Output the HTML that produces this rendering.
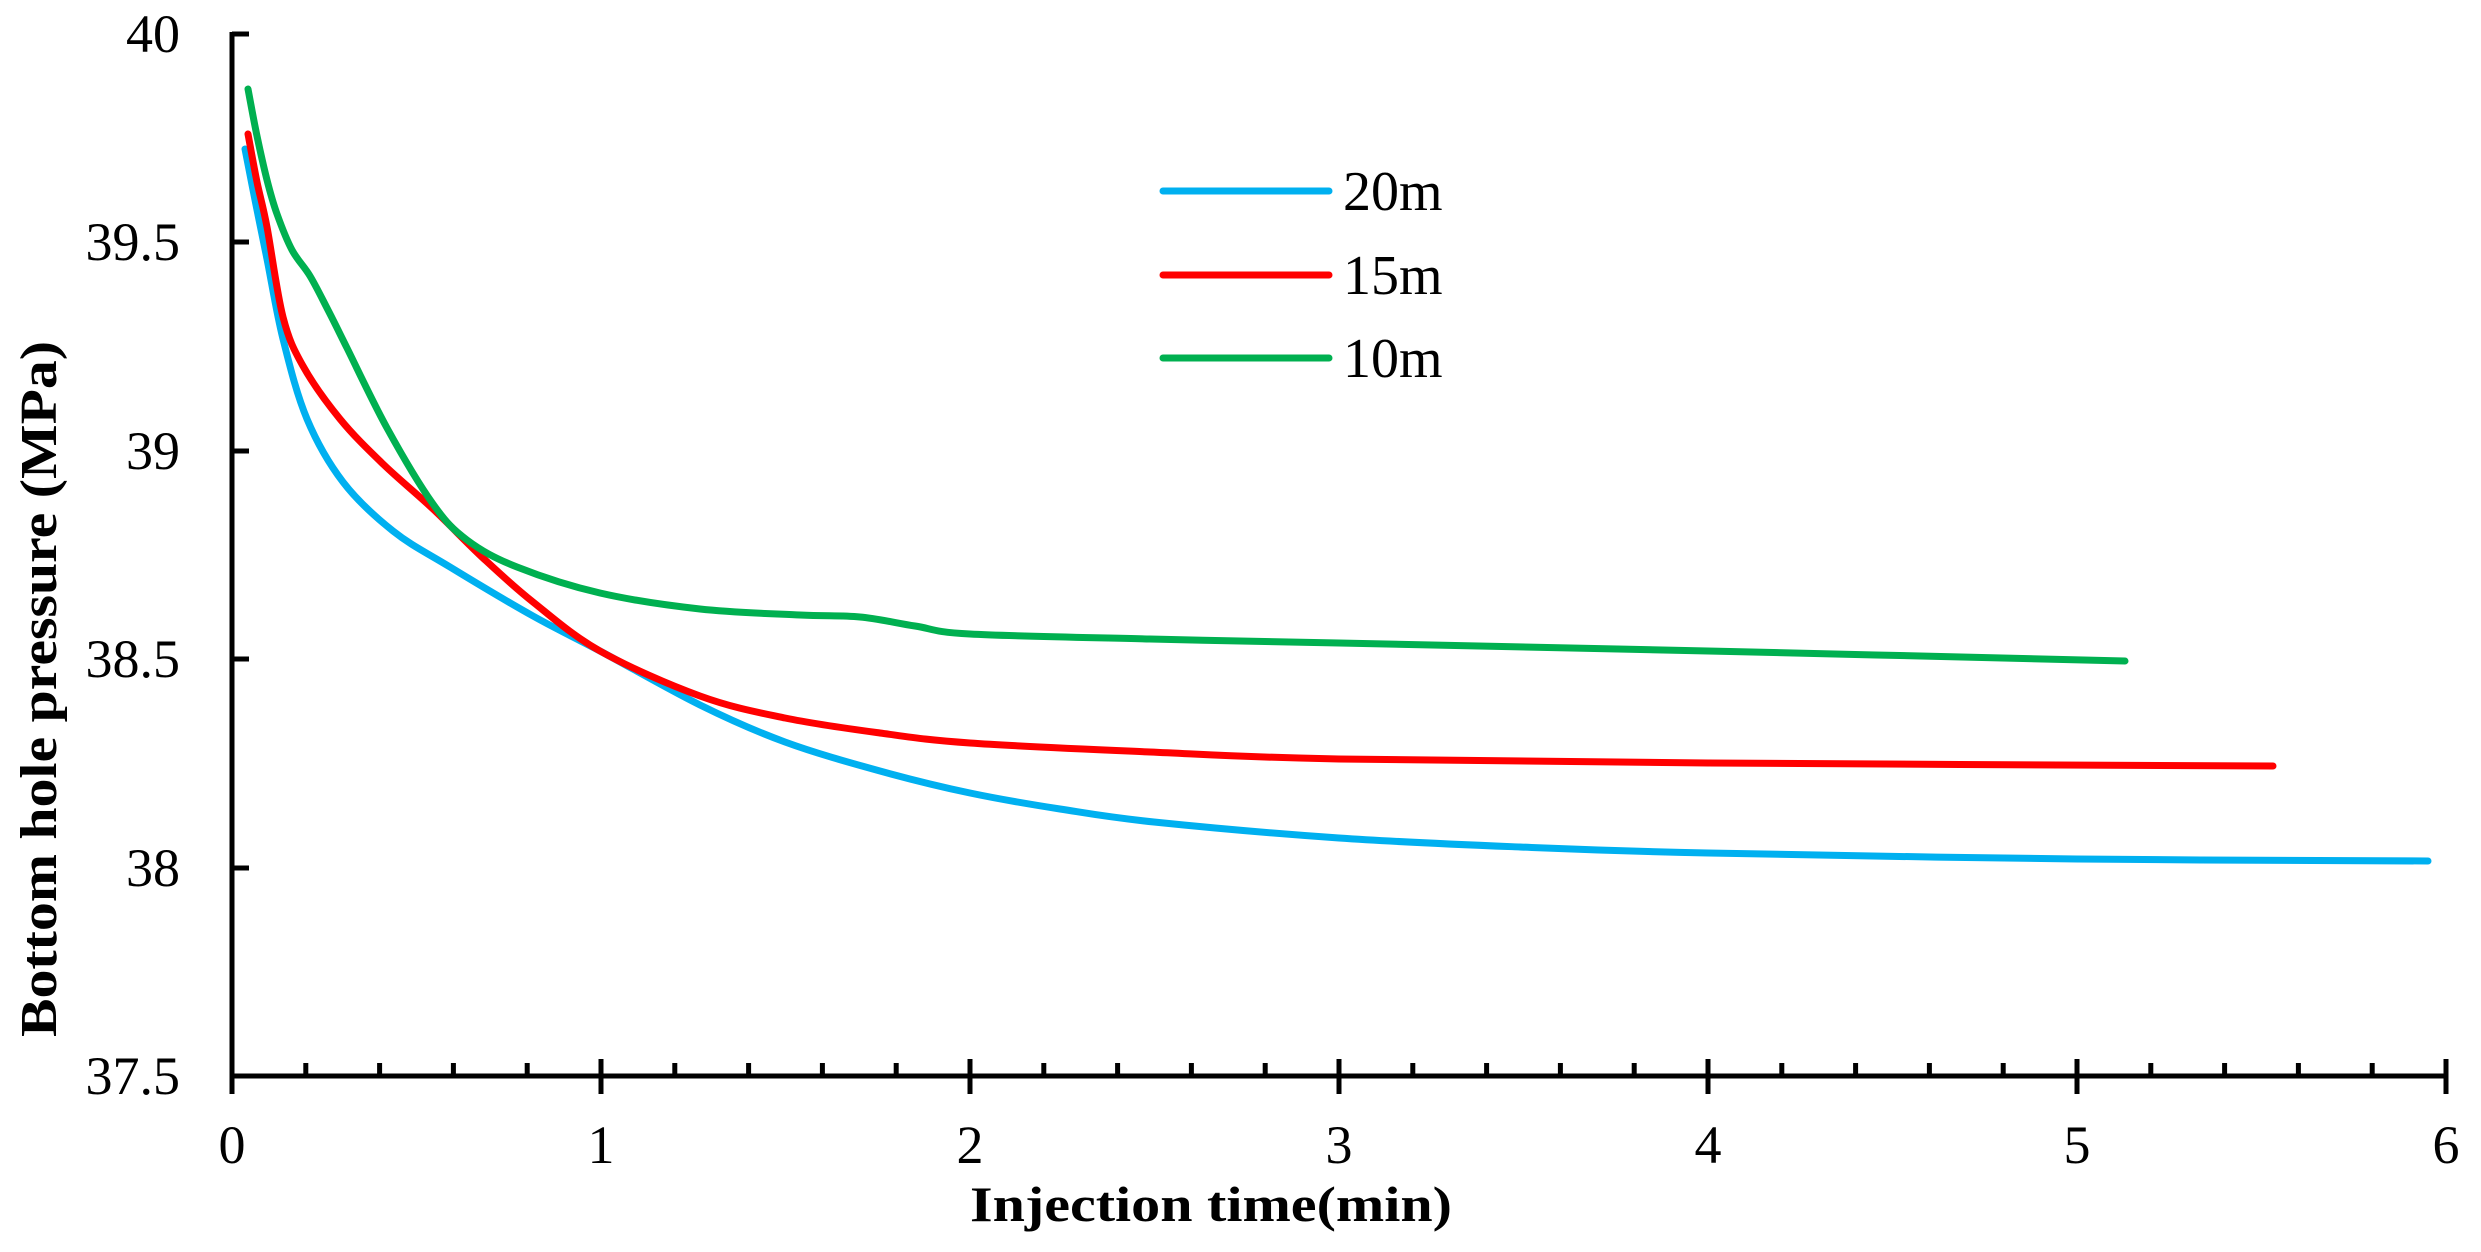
<!DOCTYPE html>
<html><head><meta charset="utf-8"><style>html,body{margin:0;padding:0;background:#fff}svg{display:block}</style></head>
<body>
<svg width="2481" height="1252" viewBox="0 0 2481 1252" xmlns="http://www.w3.org/2000/svg" font-family="Liberation Serif, serif">
<g stroke="#000" stroke-width="5" fill="none">
<line x1="232" y1="32" x2="232" y2="1094"/>
<line x1="230" y1="1076" x2="2448" y2="1076"/>
<line x1="232" y1="34" x2="249" y2="34"/>
<line x1="232" y1="242" x2="249" y2="242"/>
<line x1="232" y1="451" x2="249" y2="451"/>
<line x1="232" y1="659" x2="249" y2="659"/>
<line x1="232" y1="868" x2="249" y2="868"/>
<line x1="601" y1="1059" x2="601" y2="1094"/>
<line x1="970" y1="1059" x2="970" y2="1094"/>
<line x1="1339" y1="1059" x2="1339" y2="1094"/>
<line x1="1708" y1="1059" x2="1708" y2="1094"/>
<line x1="2077" y1="1059" x2="2077" y2="1094"/>
<line x1="2446" y1="1059" x2="2446" y2="1094"/>
</g>
<g stroke="#000" stroke-width="5">
<path d="M305.8 1076v-13M379.6 1076v-13M453.4 1076v-13M527.2 1076v-13M674.8 1076v-13M748.6 1076v-13M822.4 1076v-13M896.2 1076v-13M1043.8 1076v-13M1117.6 1076v-13M1191.4 1076v-13M1265.2 1076v-13M1412.8 1076v-13M1486.6 1076v-13M1560.4 1076v-13M1634.2 1076v-13M1781.8 1076v-13M1855.6 1076v-13M1929.4 1076v-13M2003.2 1076v-13M2150.8 1076v-13M2224.6 1076v-13M2298.4 1076v-13M2372.2 1076v-13"/>
</g>
<g font-size="54" text-anchor="end" fill="#000">
<text x="180" y="52">40</text>
<text x="180" y="260">39.5</text>
<text x="180" y="469">39</text>
<text x="180" y="677">38.5</text>
<text x="180" y="886">38</text>
<text x="180" y="1094">37.5</text>
</g>
<g font-size="54" text-anchor="middle" fill="#000">
<text x="232" y="1163">0</text>
<text x="601" y="1163">1</text>
<text x="970" y="1163">2</text>
<text x="1339" y="1163">3</text>
<text x="1708" y="1163">4</text>
<text x="2077" y="1163">5</text>
<text x="2446" y="1163">6</text>
</g>
<text x="970" y="1221" font-size="50" font-weight="bold" textLength="482" lengthAdjust="spacingAndGlyphs">Injection time(min)</text>
<text transform="translate(56,1037) rotate(-90)" font-size="52" font-weight="bold" textLength="696" lengthAdjust="spacingAndGlyphs">Bottom hole pressure (MPa)</text>
<g fill="none" stroke-width="7" stroke-linecap="round" stroke-linejoin="round">
<path id="pb" stroke="#00B0F0" d="M245,149 L256,205 267,259 283,339 307,419 343,482 393,531 450,567 533,616 600,651 700,705 785,742 880,771 970,793 1060,809 1154,822 1339,838 1520,847 1708,853 2077,859 2428,861"/>
<path id="pr" stroke="#FF0000" d="M248,134 L257,182 267,227 283,317 303,366 340,419 383,464 433,509 483,558 533,602 600,651 700,696 785,718 880,733 970,743 1150,752 1339,759 1708,763 2273,766"/>
<path id="pg" stroke="#00B050" d="M248,89 L257,136 267,180 277,214 292,250 310,276 328,310 347,348 387,428 433,504 467,540 517,567 600,593 700,609 800,615 860,617 915,626 970,634 1150,639 1339,643 1708,651 2125,661"/>
</g>
<g stroke-width="7" stroke-linecap="round">
<line x1="1163" y1="191" x2="1329" y2="191" stroke="#00B0F0"/>
<line x1="1163" y1="275" x2="1329" y2="275" stroke="#FF0000"/>
<line x1="1163" y1="358" x2="1329" y2="358" stroke="#00B050"/>
</g>
<g font-size="56" fill="#000">
<text x="1343" y="210">20m</text>
<text x="1343" y="294">15m</text>
<text x="1343" y="377">10m</text>
</g>
</svg>
<script>
['pb','pr','pg'].forEach(function(id){
  var el=document.getElementById(id);
  var nums=el.getAttribute('d').replace(/[ML]/g,' ').trim().split(/[\s,]+/).map(Number);
  var p=[];for(var i=0;i<nums.length;i+=2)p.push([nums[i],nums[i+1]]);
  var d='M'+p[0][0]+','+p[0][1];
  for(var i=0;i<p.length-1;i++){
    var p0=p[i-1]||p[i],p1=p[i],p2=p[i+1],p3=p[i+2]||p2;
    var c1=[p1[0]+(p2[0]-p0[0])/6,p1[1]+(p2[1]-p0[1])/6];
    var c2=[p2[0]-(p3[0]-p1[0])/6,p2[1]-(p3[1]-p1[1])/6];
    d+=' C'+c1[0].toFixed(1)+','+c1[1].toFixed(1)+' '+c2[0].toFixed(1)+','+c2[1].toFixed(1)+' '+p2[0]+','+p2[1];
  }
  el.setAttribute('d',d);
});
</script>
</body></html>
